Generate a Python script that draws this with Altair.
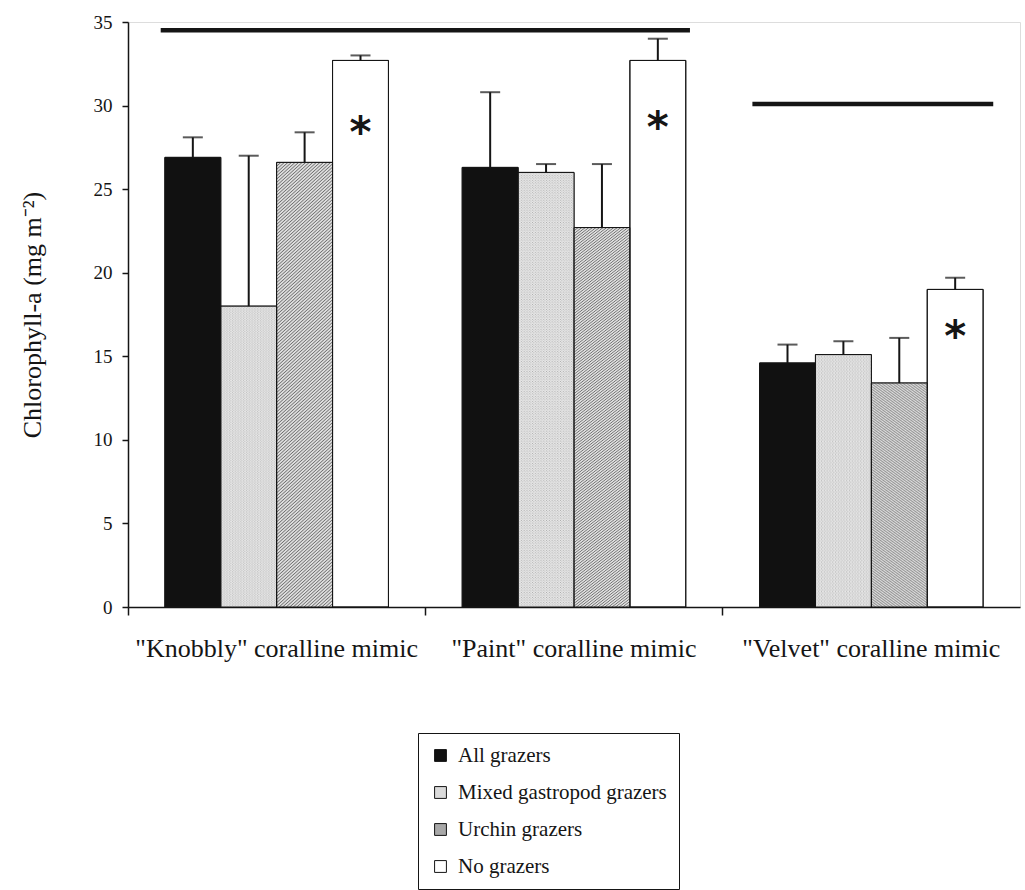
import altair as alt
import pandas as pd
from urllib.parse import quote

# ---- data -------------------------------------------------------------
categories = ['"Knobbly" coralline mimic', '"Paint" coralline mimic', '"Velvet" coralline mimic']
series = ["All grazers", "Mixed gastropod grazers", "Urchin grazers", "No grazers"]

all_grazers = [26.9, 26.3, 14.6]
mixed_gastropod = [18.0, 26.0, 15.1]
urchin = [26.6, 22.7, 13.4]
no_grazers = [32.7, 32.7, 19.0]

all_grazers_se = [1.2, 4.5, 1.1]
mixed_gastropod_se = [9.0, 0.5, 0.8]
urchin_se = [1.8, 3.8, 2.7]
no_grazers_se = [0.3, 1.3, 0.7]

# height of the significance asterisk drawn inside each "No grazers" bar
asterisk_level = [29.0, 29.3, 16.8]

# horizontal bars marking groups that do not differ
sig_start = ['"Knobbly" coralline mimic', '"Velvet" coralline mimic']
sig_end = ['"Paint" coralline mimic', '"Velvet" coralline mimic']
sig_level = [34.5, 30.1]

# ---- fill patterns ------------------------------------------------------
def pattern_uri(tile, size, transform=""):
    svg = (
        "<svg xmlns='http://www.w3.org/2000/svg' width='80' height='700'>"
        f"<defs><pattern id='p' width='{size}' height='{size}' patternUnits='userSpaceOnUse' {transform}>"
        f"{tile}</pattern></defs>"
        "<rect width='100%' height='100%' fill='url(#p)'/></svg>"
    )
    return "data:image/svg+xml;charset=utf-8," + quote(svg)

stipple = pattern_uri(
    "<rect width='4' height='4' fill='#e6e6e6'/>"
    "<rect x='0' y='0' width='1' height='1' fill='#808080'/>"
    "<rect x='2' y='2' width='1' height='1' fill='#808080'/>",
    4,
)
hatch = pattern_uri(
    "<rect width='3.6' height='3.6' fill='#dedede'/>"
    "<rect x='0' y='0' width='1' height='3.6' fill='#5a5a5a'/>",
    3.6,
    "patternTransform='rotate(45)'",
)
pattern_for = {"Mixed gastropod grazers": stipple, "Urchin grazers": hatch}

values = [all_grazers, mixed_gastropod, urchin, no_grazers]
errors = [all_grazers_se, mixed_gastropod_se, urchin_se, no_grazers_se]

rows = []
for s, vals, errs in zip(series, values, errors):
    for c, v, e in zip(categories, vals, errs):
        rows.append({"cat": c, "series": s, "value": v, "upper": v + e,
                     "url": pattern_for.get(s, "")})
df = pd.DataFrame(rows)

stars = pd.DataFrame({"cat": categories, "series": ["No grazers"] * 3,
                      "level": asterisk_level, "label": ["*"] * 3})

FONT = "Liberation Serif"
INK = "#151515"

x_enc = alt.X(
    "cat:N", sort=categories,
    scale=alt.Scale(paddingInner=0, paddingOuter=0),
    axis=alt.Axis(title=None, labelAngle=0, bandPosition=0, tickSize=8,
                  labelPadding=20, labelFontSize=26, labelFont=FONT,
                  labelLimit=0, labelColor=INK, tickColor=INK, domainColor=INK,
                  domainWidth=1.5, tickWidth=1.5),
)
off_enc = alt.XOffset("series:N", sort=series,
                      scale=alt.Scale(paddingOuter=0.66, paddingInner=0))
y_scale = alt.Scale(domain=[0, 35], nice=False)

base = alt.Chart(df).encode(x=x_enc, xOffset=off_enc)

bars = base.mark_bar(stroke=INK, strokeWidth=1).encode(
    y=alt.Y(
        "value:Q", scale=y_scale,
        axis=alt.Axis(
            title="Chlorophyll-a (mg m⁻²)", values=list(range(0, 36, 5)),
            grid=False, tickSize=6, labelPadding=10, labelFontSize=19,
            labelFont=FONT, labelColor=INK, tickColor=INK, domainColor=INK,
            domainWidth=1.5, tickWidth=1.5, titleFont=FONT, titleFontSize=26,
            titleFontWeight="normal", titleColor=INK, titlePadding=48,
        ),
    ),
    color=alt.Color(
        "series:N", sort=series,
        scale=alt.Scale(domain=series,
                        range=["#111111", "#dadada", "#a8a8a8", "#ffffff"]),
        legend=alt.Legend(
            title=None, orient="none", legendX=290, legendY=711,
            direction="vertical", symbolType="square", symbolSize=140,
            symbolStrokeColor=INK, symbolStrokeWidth=1, labelFont=FONT,
            labelFontSize=21, labelColor=INK, labelOffset=7, rowPadding=15,
            labelLimit=0, padding=12, strokeColor=INK, fillColor="white",
        ),
    ),
)

textures = base.transform_filter("datum.url != ''").mark_image(aspect=False).encode(
    y="value:Q", y2=alt.datum(0), url="url:N"
)

outlines = base.mark_bar(fillOpacity=0, stroke=INK, strokeWidth=1).encode(
    y="value:Q"
)

err_stem = base.mark_rule(color=INK, strokeWidth=2).encode(
    y="value:Q", y2="upper:Q"
)
err_cap = base.mark_tick(color=INK, thickness=2, size=20).encode(y="upper:Q")

asterisks = alt.Chart(stars).mark_text(
    font="DejaVu Sans", fontWeight="bold", fontSize=42, color=INK,
    baseline="alphabetic", dy=25,
).encode(x=alt.X("cat:N", sort=categories), xOffset=alt.XOffset("series:N", sort=series),
         y="level:Q", text="label:N")

sig_df = pd.DataFrame({"start": sig_start, "end": sig_end, "level": sig_level})
sig1 = alt.Chart(sig_df.iloc[[0]]).mark_rule(color=INK, strokeWidth=4.5).encode(
    x=alt.X("start:N", sort=categories, bandPosition=0.11),
    x2=alt.X2("end:N", bandPosition=0.89),
    y="level:Q",
)
sig2 = alt.Chart(sig_df.iloc[[1]]).mark_rule(color=INK, strokeWidth=4.5).encode(
    x=alt.X("start:N", sort=categories, bandPosition=0.10),
    x2=alt.X2("end:N", bandPosition=0.91),
    y="level:Q",
)

chart = (
    alt.layer(bars, textures, outlines, err_stem, err_cap, asterisks, sig1, sig2)
    .properties(
        width=892, height=585,
        autosize=alt.AutoSizeParams(type="none"),
        padding={"left": 128, "top": 22, "right": 5, "bottom": 283},
    )
    .configure_view(stroke=INK, strokeWidth=1.5)
    .configure(background="white")
)

chart.save("out.html", embed_options={"renderer": "svg", "actions": False})
